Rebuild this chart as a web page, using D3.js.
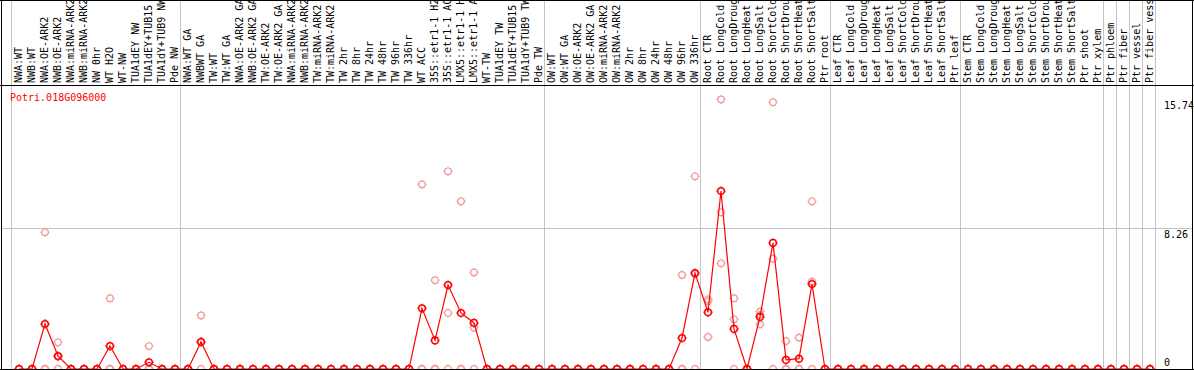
<!DOCTYPE html>
<html><head><meta charset="utf-8">
<script src="https://cdn.jsdelivr.net/npm/d3@7"></script>
<style>
html,body{margin:0;padding:0;background:#fff;}
svg{display:block;}
text{font-family:"DejaVu Sans Mono",monospace;font-size:10px;}
</style></head>
<body>
<svg id="chart" width="1194" height="370"></svg>
<script>
const geneName = "Potri.018G096000";
const categories = [
 "NWA:WT","NWB:WT","NWA:OE-ARK2","NWB:OE-ARK2","NWA:miRNA-ARK2","NWB:miRNA-ARK2","NW 0hr","WT H2O","WT-NW","TUA1dEY NW","TUA1dEY+TUB15 NW","TUA1dY+TUB9 NW","Pde NW",
 "NWA:WT GA","NWBWT GA","TW:WT","TW:WT GA","NWA:OE-ARK2 GA","NWB:OE-ARK2 GA","TW:OE-ARK2","TW:OE-ARK2 GA","NWA:miRNA-ARK2 GA","NWB:miRNA-ARK2 GA","TW:miRNA-ARK2","TW:miRNA-ARK2 GA",
 "TW 2hr","TW 8hr","TW 24hr","TW 48hr","TW 96hr","TW 336hr","WT ACC","35S::etr1-1 H2O","35S::etr1-1 ACC","LMX5::etr1-1 H2O","LMX5::etr1-1 ACC","WT-TW","TUA1dEY TW","TUA1dEY+TUB15 TW","TUA1dY+TUB9 TW","Pde TW",
 "OW:WT","OW:WT GA","OW:OE-ARK2","OW:OE-ARK2 GA","OW:miRNA-ARK2","OW:miRNA-ARK2 GA","OW 2hr","OW 8hr","OW 24hr","OW 48hr","OW 96hr","OW 336hr",
 "Root CTR","Root LongCold","Root LongDrought","Root LongHeat","Root LongSalt","Root ShortCold","Root ShortDrought","Root ShortHeat","Root ShortSalt","Ptr root",
 "Leaf CTR","Leaf LongCold","Leaf LongDrought","Leaf LongHeat","Leaf LongSalt","Leaf ShortCold","Leaf ShortDrought","Leaf ShortHeat","Leaf ShortSalt","Ptr leaf",
 "Stem CTR","Stem LongCold","Stem LongDrought","Stem LongHeat","Stem LongSalt","Stem ShortCold","Stem ShortDrought","Stem ShortHeat","Stem ShortSalt","Ptr shoot","Ptr xylem",
 "Ptr phloem","Ptr fiber","Ptr vessel","Ptr fiber vessel"
];
// mean expression (connected red line)
const meanValues = [
 0,0,2.63,0.76,0,0,0,1.34,0,0,0.39,0,0,
 0,1.58,0,0,0,0,0,0,0,0,0,0,
 0,0,0,0,0,0,3.54,1.67,4.90,3.27,2.69,0,0,0,0,0,
 0,0,0,0,0,0,0,0,0,0,1.81,5.60,
 3.31,10.39,2.34,0,3.04,7.36,0.53,0.60,4.96,0,
 0,0,0,0,0,0,0,0,0,0,
 0,0,0,0,0,0,0,0,0,0,0,
 0,0,0,0
];
// individual replicates (pale points)
const rep1 = [
 0,0,7.98,1.56,0,0,0,4.13,0,0,1.34,0,0,
 0,3.13,0,0,0,0,0,0,0,0,0,0,
 0,0,0,0,0,0,10.78,5.18,11.54,9.79,5.64,0,0,0,0,0,
 0,0,0,0,0,0,0,0,0,0,5.49,11.25,
 4.07,15.74,4.13,0,3.35,15.57,1.63,1.83,9.79,0,
 0,0,0,0,0,0,0,0,0,0,
 0,0,0,0,0,0,0,0,0,0,0,
 0,0,0,0
];
const rep2 = [
 0,0,0,0.72,0,0,0,0,0,0,0,0,0,
 0,1.60,0,0,0,0,0,0,0,0,0,0,
 0,0,0,0,0,0,0,0,3.27,0,2.41,0,0,0,0,0,
 0,0,0,0,0,0,0,0,0,0,0,5.55,
 3.95,9.15,2.90,0,3.16,6.44,0,0,5.10,0,
 0,0,0,0,0,0,0,0,0,0,
 0,0,0,0,0,0,0,0,0,0,0,
 0,0,0,0
];
const rep3 = [
 0,0,0,0,0,0,0,0,0,0,0,0,0,
 0,0,0,0,0,0,0,0,0,0,0,0,
 0,0,0,0,0,0,0,0,0,0,0,0,0,0,0,0,
 0,0,0,0,0,0,0,0,0,0,0,0,
 1.87,6.17,0,0,2.61,0,0,0,0,0,
 0,0,0,0,0,0,0,0,0,0,
 0,0,0,0,0,0,0,0,0,0,0,
 0,0,0,0
];
const yTicks = [0, 8.26, 15.74];
const groupBreaks = [0,13,41,53,63,73,84,85,86,87,88];

const W = 1194, H = 370;
const svg = d3.select("#chart");
const x = d3.scaleBand().domain(d3.range(categories.length)).range([11, 1155]).padding(0);
const y = d3.scaleLinear().domain([0, 8.26]).range([369, 227.5]);
const cx = i => x(i) + 8;
const edge = k => (k < categories.length ? x(k) : x(categories.length - 1) + x.bandwidth());

svg.append("rect").attr("width", W).attr("height", H).attr("fill", "#fff");

// vertical group lines
svg.append("g").selectAll("line").data(groupBreaks).join("line")
  .attr("x1", d => Math.round(edge(d)) + 0.5).attr("x2", d => Math.round(edge(d)) + 0.5)
  .attr("y1", 0).attr("y2", 369).attr("stroke", "#c4c4c4").attr("stroke-width", 1);

// horizontal gray line for mid tick
svg.append("g").selectAll("line").data(yTicks.filter(v => v > 0 && v < 10)).join("line")
  .attr("x1", 1).attr("x2", 1193)
  .attr("y1", d => Math.round(y(d)) + 0.5).attr("y2", d => Math.round(y(d)) + 0.5)
  .attr("stroke", "#c4c4c4").attr("stroke-width", 1);

// column labels
svg.append("g").selectAll("text").data(categories).join("text")
  .attr("transform", (d, i) => `translate(${cx(i) + 3},83) rotate(-90)`)
  .attr("text-anchor", "start").attr("fill", "#000").text(d => d);

// frame
const frame = svg.append("g").attr("stroke", "#000").attr("stroke-width", 1);
frame.append("line").attr("x1", 0).attr("x2", W).attr("y1", 0.5).attr("y2", 0.5);
frame.append("line").attr("x1", 0).attr("x2", W).attr("y1", 85.5).attr("y2", 85.5);
frame.append("line").attr("x1", 1.5).attr("x2", 1.5).attr("y1", 0).attr("y2", 370);
frame.append("line").attr("x1", 1192.5).attr("x2", 1192.5).attr("y1", 0).attr("y2", 370);

// marker path: circle + small ticks
function marker(r, t) {
  const c = d3.path();
  c.moveTo(r, 0); c.arc(0, 0, r, 0, 2 * Math.PI);
  c.moveTo(0, -r); c.lineTo(0, -r - t);
  c.moveTo(0, r); c.lineTo(0, r + t);
  c.moveTo(-r, 0); c.lineTo(-r - t, 0);
  c.moveTo(r, 0); c.lineTo(r + t, 0);
  return c.toString();
}

// replicate points
const reps = [];
[rep1, rep2, rep3].forEach(arr => arr.forEach((v, i) => reps.push({ i, v })));
svg.append("g").selectAll("path").data(reps).join("path")
  .attr("d", marker(3.3, 1.3))
  .attr("transform", d => `translate(${cx(d.i)},${y(d.v)})`)
  .attr("fill", "none").attr("stroke", "#f19a9a").attr("stroke-width", 1.2);

// mean line
const line = d3.line().x((d, i) => cx(i)).y(d => y(d));
svg.append("path").datum(meanValues).attr("d", line)
  .attr("fill", "none").attr("stroke", "#ff0000").attr("stroke-width", 1.2);

// mean points
svg.append("g").selectAll("path").data(meanValues).join("path")
  .attr("d", marker(3.3, 1.3))
  .attr("transform", (d, i) => `translate(${cx(i)},${y(d)})`)
  .attr("fill", "none").attr("stroke", "#ff0000").attr("stroke-width", 1.5);

// bottom line
svg.append("line").attr("x1", 0).attr("x2", W).attr("y1", 369.5).attr("y2", 369.5)
  .attr("stroke", "#000").attr("stroke-width", 1);

// y tick labels
svg.append("g").selectAll("text").data(yTicks).join("text")
  .attr("x", 1164).attr("y", d => Math.min(y(d) + 10, 366))
  .attr("fill", "#000").text(d => d === 0 ? "0" : d.toFixed(2));

// gene name
svg.append("text").attr("x", 10).attr("y", 101).attr("fill", "#ff0000").text(geneName);
</script>
</body></html>
